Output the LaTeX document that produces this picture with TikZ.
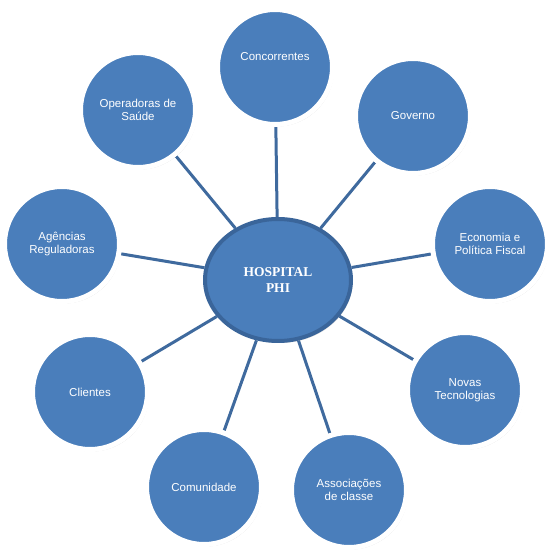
\documentclass[tikz,border=0pt]{standalone}
\usepackage{fontspec}
\setmainfont{Liberation Sans}
\newfontfamily\hubfont{Liberation Serif}
\usepackage{tikz}
\usetikzlibrary{shapes.geometric, shadows, backgrounds}
\usepackage{xcolor}
\definecolor{partyblue}{HTML}{4A7EBB}
\definecolor{hubrim}{HTML}{3A659A}
\definecolor{linkblue}{HTML}{3F6A9E}

\begin{document}
\begin{tikzpicture}[x=1pt, y=-1pt,
    party/.style={circle, minimum size=115pt, inner sep=0pt, fill=partyblue,
        draw=white, line width=5pt, text=white, align=center,
        font=\fontsize{11.5}{13.5}\selectfont,
        drop shadow={opacity=0.35, shadow xshift=1.5pt, shadow yshift=-2pt}},
    hub/.style={ellipse, minimum width=146pt, minimum height=122pt, inner sep=0pt,
        fill=partyblue, draw=hubrim, line width=4pt, text=white, align=center,
        font=\hubfont\bfseries\fontsize{13.5}{15.5}\selectfont,
        drop shadow={opacity=0.3, shadow xshift=1.5pt, shadow yshift=-2pt}},
    link/.style={draw=linkblue, line width=3pt}]
    \useasboundingbox (0,0) rectangle (558,553);

    % Centre
    \node[hub] (hub) at (278,280) {HOSPITAL\\PHI};

    % Stakeholders
    \node[party] (concorrentes) at (275,67) {Concorrentes\\[8pt]\mbox{}};
    \node[party] (governo) at (413,116) {Governo};
    \node[party] (economia) at (490,244) {Economia e\\Política Fiscal};
    \node[party] (novas) at (465,390) {Novas\\Tecnologias};
    \node[party] (associacoes) at (349,490) {Associações\\de classe};
    \node[party] (comunidade) at (204,487) {Comunidade};
    \node[party] (clientes) at (90,392) {Clientes};
    \node[party] (agencias) at (62,244) {Agências\\Reguladoras};
    \node[party] (operadoras) at (138,110) {Operadoras de\\Saúde};

    % Links
    \begin{scope}[on background layer]
        \foreach \n in {concorrentes, governo, economia, novas, associacoes,
                        comunidade, clientes, agencias, operadoras}
            \draw[link] (hub) -- (\n);
    \end{scope}
\end{tikzpicture}
\end{document}
